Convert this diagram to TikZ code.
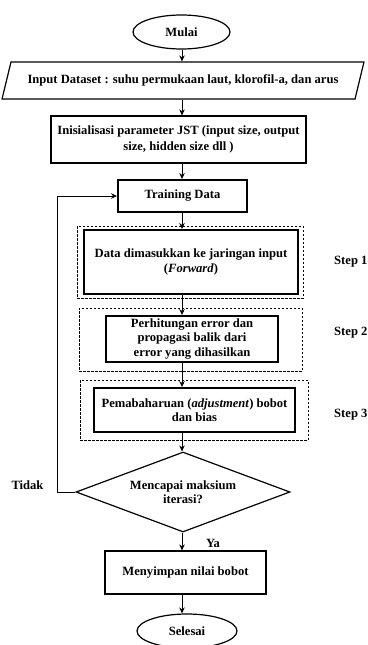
\documentclass[tikz,border=0pt]{standalone}
\usepackage{fontspec}
\setmainfont{Liberation Serif}
\usetikzlibrary{shapes.geometric,arrows.meta}
\tikzset{
  base/.style={draw, align=center, font=\fontsize{12.6}{14.5}\selectfont\bfseries, inner sep=1pt},
  proc/.style={base, rectangle, line width=1.2pt},
  thickproc/.style={base, rectangle, line width=2pt},
  term/.style={base, ellipse, line width=1.2pt},
  dashbox/.style={draw, rectangle, dashed, dash pattern=on 2.5pt off 1.5pt, line width=0.7pt},
  arr/.style={-{Stealth[length=6pt,width=5.5pt]}, line width=0.8pt},
  lbl/.style={font=\fontsize{12.6}{14.5}\selectfont\bfseries, inner sep=0pt}
}
\begin{document}
\begin{tikzpicture}[x=1pt,y=-1pt]
\useasboundingbox (0,0) rectangle (367,645);
\coordinate (xc) at (182,0);
\node[term, minimum width=97pt, minimum height=34pt] (mulai) at (181.5,32) {Mulai};
\node[base, trapezium, trapezium left angle=59, trapezium right angle=121, trapezium stretches=true, line width=1.2pt, minimum width=362pt, minimum height=37pt] (input) at (183,80.5) {Input Dataset : suhu permukaan laut, klorofil-a, dan arus};
\node[proc, minimum width=255pt, minimum height=47pt] (init) at (178.5,139.5) {Inisialisasi parameter JST (input size, output\\[2pt]size, hidden size dll )};
\node[thickproc, minimum width=129pt, minimum height=32pt] (train) at (182.5,196) {Training Data};
\node[dashbox, minimum width=226pt, minimum height=72pt] (d1) at (190,262) {};
\node[thickproc, minimum width=214pt, minimum height=64pt] (b1) at (191,262) {Data dimasukkan ke jaringan input\\[1pt](\textit{Forward})};
\node[dashbox, minimum width=223pt, minimum height=63pt] (d2) at (190.5,339.5) {};
\node[thickproc, minimum width=172pt, minimum height=46pt] (b2) at (192,339) {Perhitungan error dan\\propagasi balik dari\\error yang dihasilkan};
\node[dashbox, minimum width=228pt, minimum height=60pt] (d3) at (194,410) {};
\node[thickproc, minimum width=201pt, minimum height=44pt] (b3) at (194.5,410) {Pemabaharuan (\textit{adjustment}) bobot\\dan bias};
\node[base, diamond, line width=1.2pt, aspect=2.675, minimum width=214pt, minimum height=80pt, inner sep=0pt] (dec) at (183,492) {Mencapai maksium\\iterasi?};
\node[proc, minimum width=161pt, minimum height=43pt] (save) at (185.5,572.5) {Menyimpan nilai bobot};
\node[term, minimum width=100pt, minimum height=34pt] (end) at (187,631) {Selesai};
\node[lbl, anchor=west] (s1) at (334,262) {Step 1};
\node[lbl, anchor=west] (s2) at (334,333) {Step 2};
\node[lbl, anchor=west] (s3) at (334,415) {Step 3};
\node[lbl] (tidak) at (27.5,485) {Tidak};
\node[lbl] (ya) at (213,543) {Ya};
\draw[arr] (mulai.south -| xc) -- (input.north -| xc);
\draw[arr] (input.south -| xc) -- (init.north -| xc);
\draw[arr] (init.south -| xc) -- (train.north -| xc);
\draw[arr] (train.south -| xc) -- (b1.north -| xc);
\draw[arr] (b1.south -| xc) -- (b2.north -| xc);
\draw[arr] (b2.south -| xc) -- (b3.north -| xc);
\draw[arr] (b3.south -| xc) -- (dec.north -| xc);
\draw[arr] (dec.south -| xc) -- (save.north -| xc);
\draw[arr] (save.south -| xc) -- (end.north -| xc);
\draw[arr] (dec.west) -- ++(-18,0) |- (train.west);
\end{tikzpicture}
\end{document}
